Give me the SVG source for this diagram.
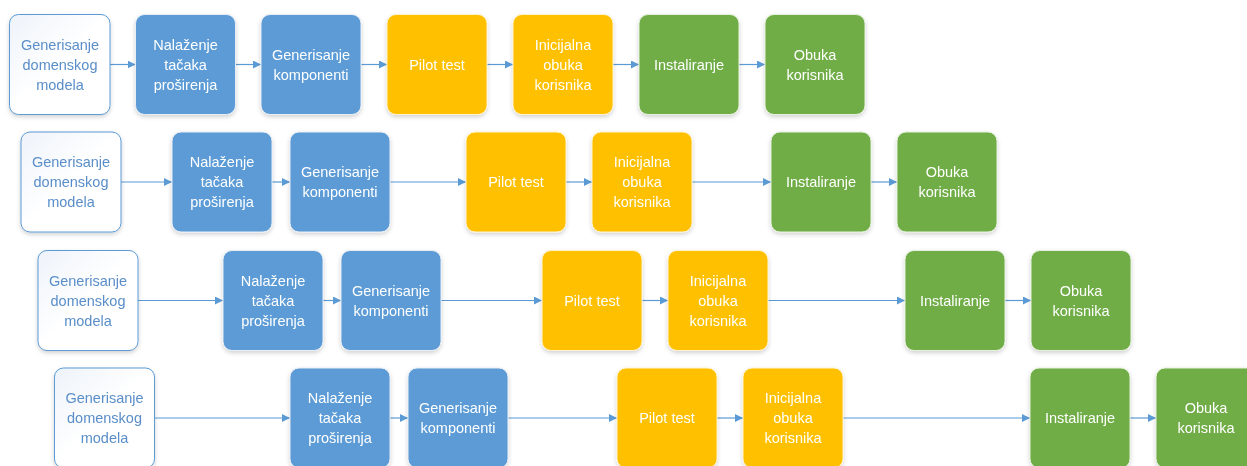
<svg xmlns="http://www.w3.org/2000/svg" width="1247" height="466" viewBox="0 0 1247 466">
  <defs>
    <filter id="shadow" x="-10%" y="-10%" width="120%" height="125%">
      <feDropShadow dx="0" dy="2" stdDeviation="2" flood-color="#000" flood-opacity="0.18"/>
    </filter>
    <linearGradient id="startFill" x1="0" y1="0" x2="1" y2="1">
      <stop offset="0" stop-color="#eef3fa"/>
      <stop offset="0.5" stop-color="#ffffff"/>
      <stop offset="1" stop-color="#ffffff"/>
    </linearGradient>
    <marker id="arrow" viewBox="0 0 10 10" refX="10" refY="5" markerWidth="8" markerHeight="8" markerUnits="userSpaceOnUse" orient="auto">
      <path d="M0,0 L10,5 L0,10 z" fill="#5b9bd5"/>
    </marker>
    <style>
      .box { filter: url(#shadow); }
      .start rect { fill: url(#startFill); stroke: #5b9bd5; stroke-width: 1; }
      .blue rect { fill: #5b9bd5; stroke: #e8eef6; stroke-width: 1; }
      .orange rect { fill: #ffc000; stroke: #fff3d0; stroke-width: 1; }
      .green rect { fill: #70ad47; stroke: #e6f0de; stroke-width: 1; }
      text { font-family: "Liberation Sans", Arial, sans-serif; font-size: 14.5px; text-anchor: middle; fill: #ffffff; }
      .start text { fill: #5a8ec9; }
      .conn line { stroke: #5b9bd5; stroke-width: 1.2; marker-end: url(#arrow); }
    </style>
  </defs>

  <rect width="1247" height="466" fill="#ffffff"/>

  <!-- connectors -->
  <g id="connectors" class="conn">
    <!-- row 1 -->
    <line x1="110" y1="64.5" x2="135.5" y2="64.5"/>
    <line x1="235.5" y1="64.5" x2="261" y2="64.5"/>
    <line x1="361" y1="64.5" x2="387" y2="64.5"/>
    <line x1="487" y1="64.5" x2="513" y2="64.5"/>
    <line x1="613" y1="64.5" x2="639" y2="64.5"/>
    <line x1="739" y1="64.5" x2="765" y2="64.5"/>
    <!-- row 2 -->
    <line x1="121" y1="182" x2="172" y2="182"/>
    <line x1="272" y1="182" x2="290" y2="182"/>
    <line x1="390" y1="182" x2="466" y2="182"/>
    <line x1="566" y1="182" x2="592" y2="182"/>
    <line x1="692" y1="182" x2="771" y2="182"/>
    <line x1="871" y1="182" x2="897" y2="182"/>
    <!-- row 3 -->
    <line x1="138" y1="300.5" x2="223" y2="300.5"/>
    <line x1="323" y1="300.5" x2="341" y2="300.5"/>
    <line x1="441" y1="300.5" x2="542" y2="300.5"/>
    <line x1="642" y1="300.5" x2="668" y2="300.5"/>
    <line x1="768" y1="300.5" x2="905" y2="300.5"/>
    <line x1="1005" y1="300.5" x2="1031" y2="300.5"/>
    <!-- row 4 -->
    <line x1="155" y1="418" x2="290" y2="418"/>
    <line x1="390" y1="418" x2="408" y2="418"/>
    <line x1="508" y1="418" x2="617" y2="418"/>
    <line x1="717" y1="418" x2="743" y2="418"/>
    <line x1="843" y1="418" x2="1030" y2="418"/>
    <line x1="1130" y1="418" x2="1156" y2="418"/>
  </g>

  <!-- row 1 -->
  <g id="r1-domenski-model" class="box start">
    <rect x="9.5" y="14.5" width="100.5" height="100" rx="9"/>
    <text x="60" y="49.5">Generisanje</text>
    <text x="60" y="69.5">domenskog</text>
    <text x="60" y="89.5">modela</text>
  </g>
  <g id="r1-tacke-prosirenja" class="box blue">
    <rect x="135.5" y="14.5" width="100" height="100" rx="9"/>
    <text x="185.5" y="49.5">Nalaženje</text>
    <text x="185.5" y="69.5">tačaka</text>
    <text x="185.5" y="89.5">proširenja</text>
  </g>
  <g id="r1-komponente" class="box blue">
    <rect x="261" y="14.5" width="100" height="100" rx="9"/>
    <text x="311" y="59.5">Generisanje</text>
    <text x="311" y="79.5">komponenti</text>
  </g>
  <g id="r1-pilot-test" class="box orange">
    <rect x="387" y="14.5" width="100" height="100" rx="9"/>
    <text x="437" y="69.5">Pilot test</text>
  </g>
  <g id="r1-inicijalna-obuka" class="box orange">
    <rect x="513" y="14.5" width="100" height="100" rx="9"/>
    <text x="563" y="49.5">Inicijalna</text>
    <text x="563" y="69.5">obuka</text>
    <text x="563" y="89.5">korisnika</text>
  </g>
  <g id="r1-instaliranje" class="box green">
    <rect x="639" y="14.5" width="100" height="100" rx="9"/>
    <text x="689" y="69.5">Instaliranje</text>
  </g>
  <g id="r1-obuka-korisnika" class="box green">
    <rect x="765" y="14.5" width="100" height="100" rx="9"/>
    <text x="815" y="59.5">Obuka</text>
    <text x="815" y="79.5">korisnika</text>
  </g>

  <!-- row 2 -->
  <g id="r2-domenski-model" class="box start">
    <rect x="21" y="132" width="100" height="100" rx="9"/>
    <text x="71" y="167">Generisanje</text>
    <text x="71" y="187">domenskog</text>
    <text x="71" y="207">modela</text>
  </g>
  <g id="r2-tacke-prosirenja" class="box blue">
    <rect x="172" y="132" width="100" height="100" rx="9"/>
    <text x="222" y="167">Nalaženje</text>
    <text x="222" y="187">tačaka</text>
    <text x="222" y="207">proširenja</text>
  </g>
  <g id="r2-komponente" class="box blue">
    <rect x="290" y="132" width="100" height="100" rx="9"/>
    <text x="340" y="177">Generisanje</text>
    <text x="340" y="197">komponenti</text>
  </g>
  <g id="r2-pilot-test" class="box orange">
    <rect x="466" y="132" width="100" height="100" rx="9"/>
    <text x="516" y="187">Pilot test</text>
  </g>
  <g id="r2-inicijalna-obuka" class="box orange">
    <rect x="592" y="132" width="100" height="100" rx="9"/>
    <text x="642" y="167">Inicijalna</text>
    <text x="642" y="187">obuka</text>
    <text x="642" y="207">korisnika</text>
  </g>
  <g id="r2-instaliranje" class="box green">
    <rect x="771" y="132" width="100" height="100" rx="9"/>
    <text x="821" y="187">Instaliranje</text>
  </g>
  <g id="r2-obuka-korisnika" class="box green">
    <rect x="897" y="132" width="100" height="100" rx="9"/>
    <text x="947" y="177">Obuka</text>
    <text x="947" y="197">korisnika</text>
  </g>

  <!-- row 3 -->
  <g id="r3-domenski-model" class="box start">
    <rect x="38" y="250.5" width="100" height="100" rx="9"/>
    <text x="88" y="285.5">Generisanje</text>
    <text x="88" y="305.5">domenskog</text>
    <text x="88" y="325.5">modela</text>
  </g>
  <g id="r3-tacke-prosirenja" class="box blue">
    <rect x="223" y="250.5" width="100" height="100" rx="9"/>
    <text x="273" y="285.5">Nalaženje</text>
    <text x="273" y="305.5">tačaka</text>
    <text x="273" y="325.5">proširenja</text>
  </g>
  <g id="r3-komponente" class="box blue">
    <rect x="341" y="250.5" width="100" height="100" rx="9"/>
    <text x="391" y="295.5">Generisanje</text>
    <text x="391" y="315.5">komponenti</text>
  </g>
  <g id="r3-pilot-test" class="box orange">
    <rect x="542" y="250.5" width="100" height="100" rx="9"/>
    <text x="592" y="305.5">Pilot test</text>
  </g>
  <g id="r3-inicijalna-obuka" class="box orange">
    <rect x="668" y="250.5" width="100" height="100" rx="9"/>
    <text x="718" y="285.5">Inicijalna</text>
    <text x="718" y="305.5">obuka</text>
    <text x="718" y="325.5">korisnika</text>
  </g>
  <g id="r3-instaliranje" class="box green">
    <rect x="905" y="250.5" width="100" height="100" rx="9"/>
    <text x="955" y="305.5">Instaliranje</text>
  </g>
  <g id="r3-obuka-korisnika" class="box green">
    <rect x="1031" y="250.5" width="100" height="100" rx="9"/>
    <text x="1081" y="295.5">Obuka</text>
    <text x="1081" y="315.5">korisnika</text>
  </g>

  <!-- row 4 -->
  <g id="r4-domenski-model" class="box start">
    <rect x="54.5" y="368" width="100" height="100" rx="9"/>
    <text x="104.5" y="403">Generisanje</text>
    <text x="104.5" y="423">domenskog</text>
    <text x="104.5" y="443">modela</text>
  </g>
  <g id="r4-tacke-prosirenja" class="box blue">
    <rect x="290" y="368" width="100" height="100" rx="9"/>
    <text x="340" y="403">Nalaženje</text>
    <text x="340" y="423">tačaka</text>
    <text x="340" y="443">proširenja</text>
  </g>
  <g id="r4-komponente" class="box blue">
    <rect x="408" y="368" width="100" height="100" rx="9"/>
    <text x="458" y="413">Generisanje</text>
    <text x="458" y="433">komponenti</text>
  </g>
  <g id="r4-pilot-test" class="box orange">
    <rect x="617" y="368" width="100" height="100" rx="9"/>
    <text x="667" y="423">Pilot test</text>
  </g>
  <g id="r4-inicijalna-obuka" class="box orange">
    <rect x="743" y="368" width="100" height="100" rx="9"/>
    <text x="793" y="403">Inicijalna</text>
    <text x="793" y="423">obuka</text>
    <text x="793" y="443">korisnika</text>
  </g>
  <g id="r4-instaliranje" class="box green">
    <rect x="1030" y="368" width="100" height="100" rx="9"/>
    <text x="1080" y="423">Instaliranje</text>
  </g>
  <g id="r4-obuka-korisnika" class="box green">
    <rect x="1156" y="368" width="100" height="100" rx="9"/>
    <text x="1206" y="413">Obuka</text>
    <text x="1206" y="433">korisnika</text>
  </g>
</svg>
